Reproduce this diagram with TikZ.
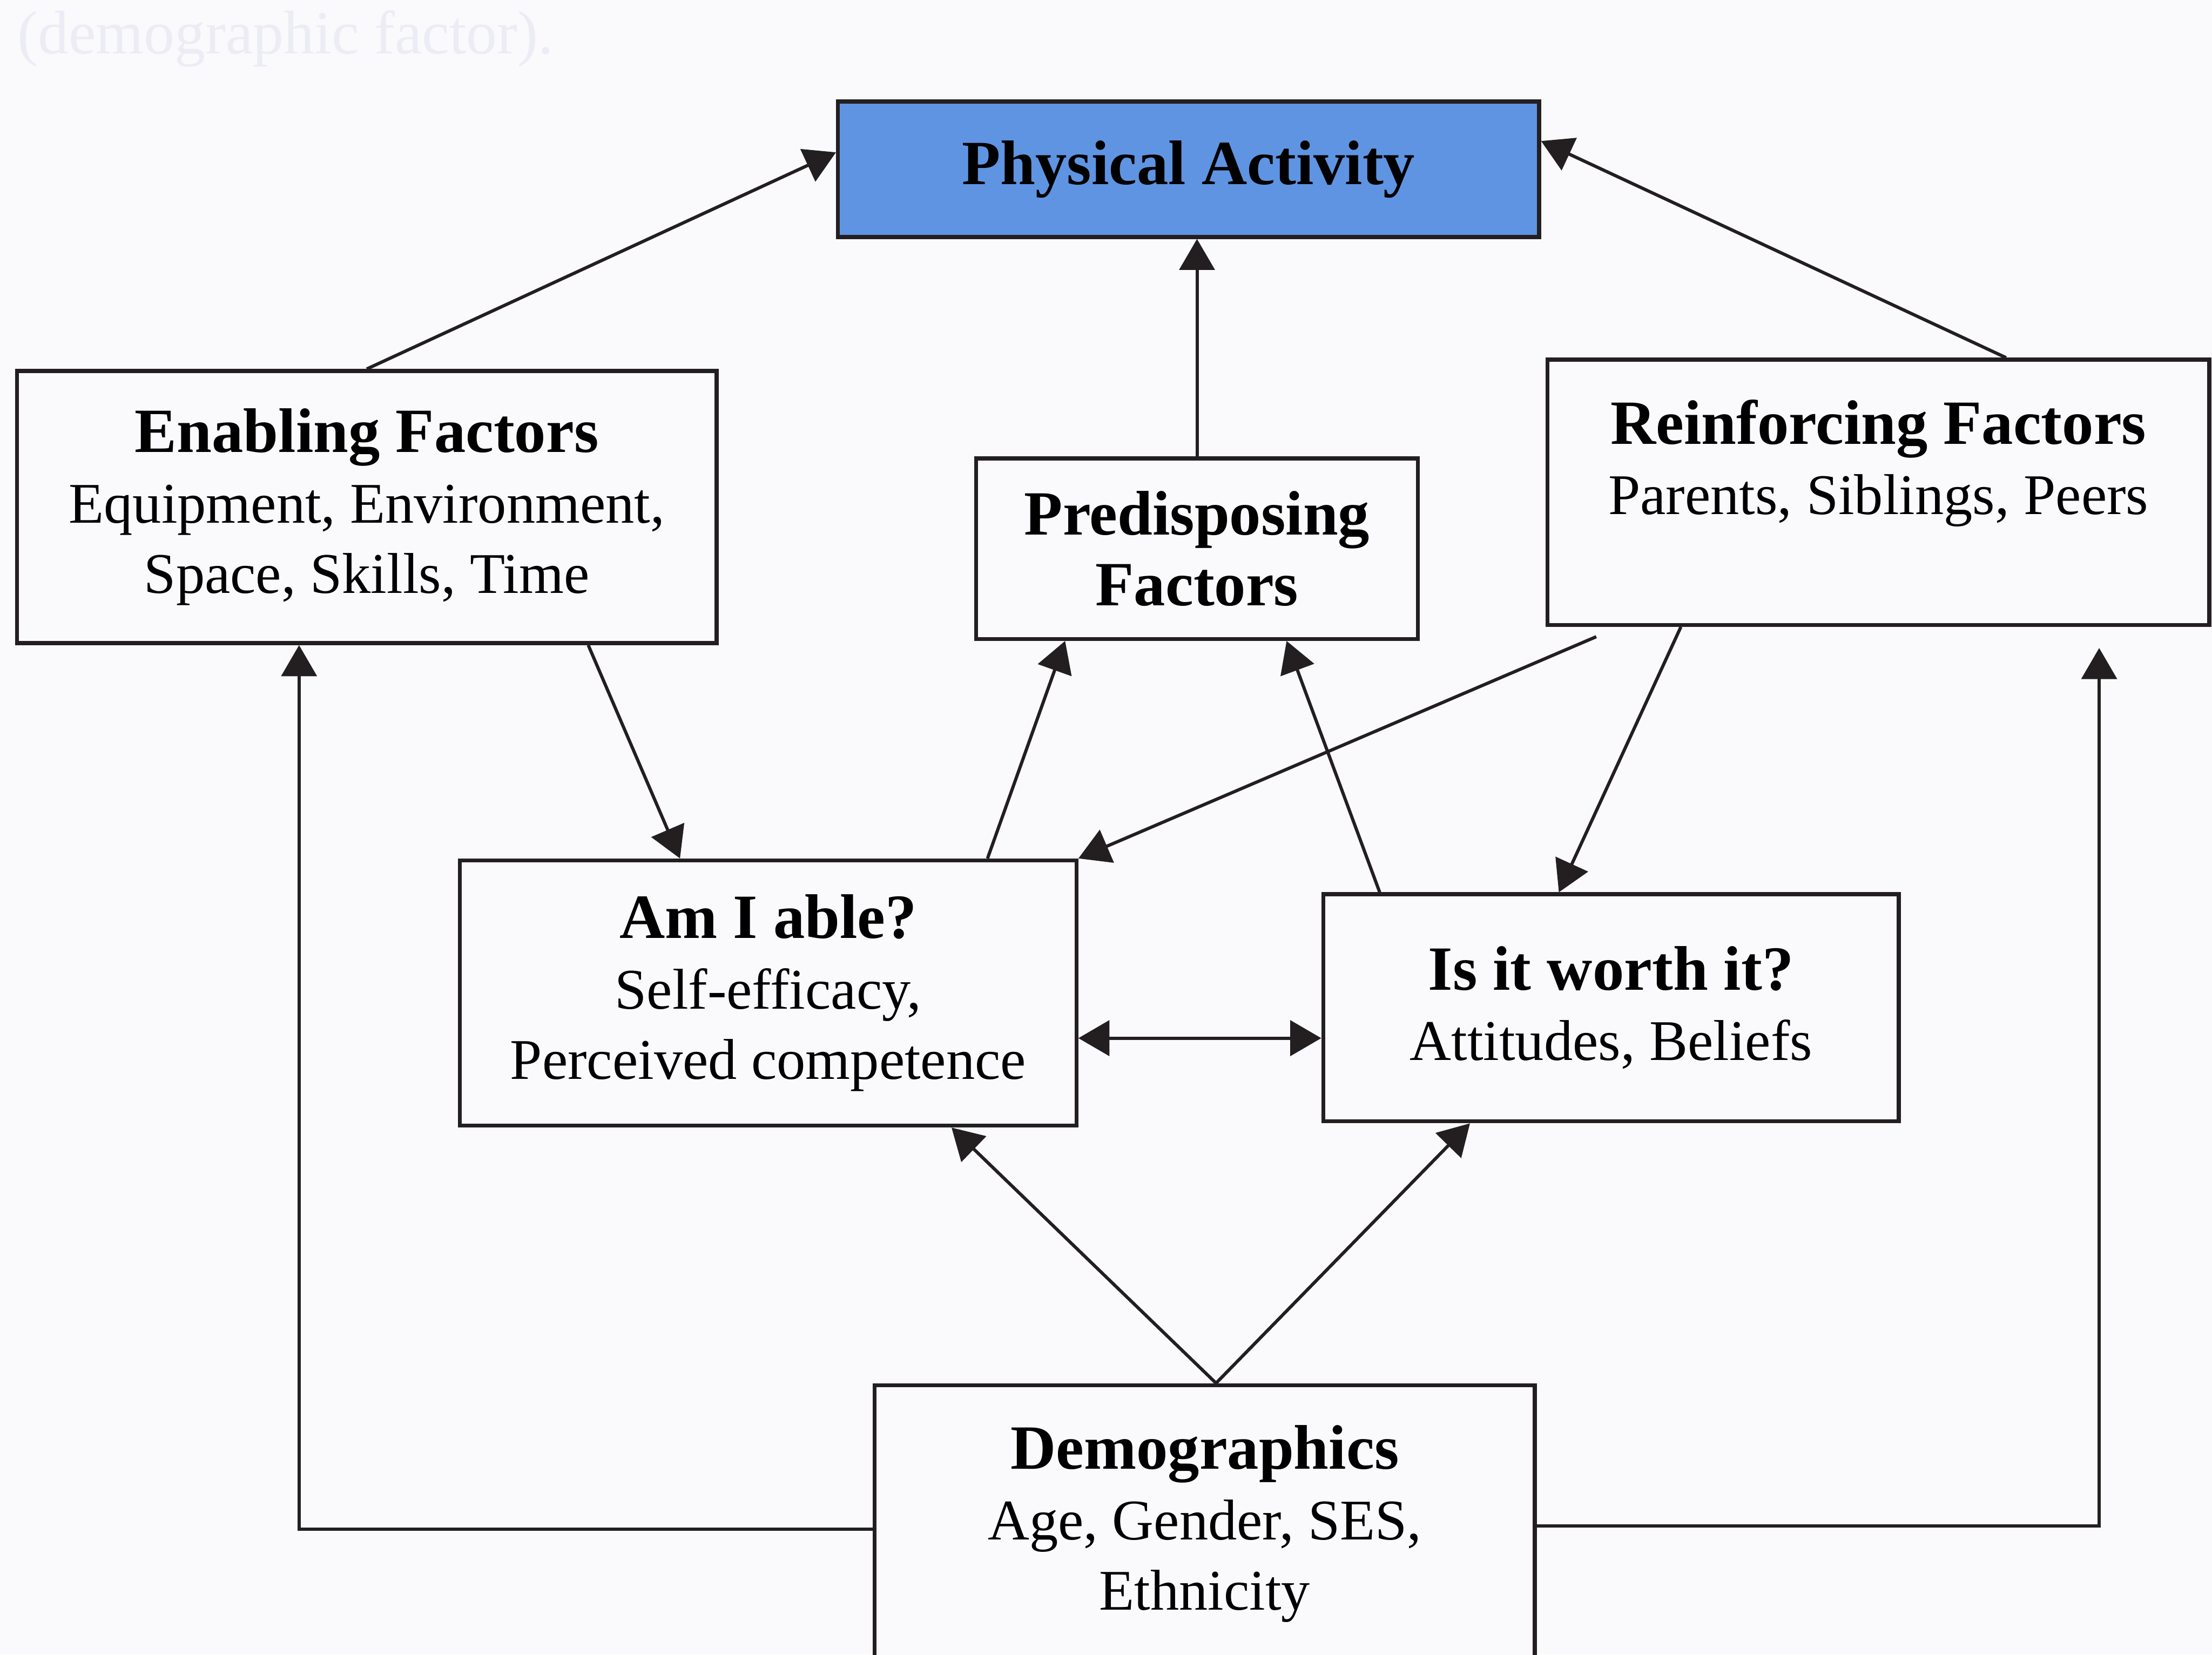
\documentclass[tikz,border=0pt]{standalone}
\usepackage{fontspec}
\setmainfont{Liberation Serif}
\usetikzlibrary{positioning, arrows.meta, calc}
\definecolor{paper}{RGB}{250,250,253}
\definecolor{ink}{RGB}{35,31,32}
\definecolor{pablue}{RGB}{95,148,226}
\definecolor{ghost}{RGB}{236,236,244}
\newcommand{\factortitle}[1]{{\fontsize{12.7}{14.2}\selectfont\bfseries #1}}

\begin{document}
\begin{tikzpicture}[
		font=\fontsize{11.6}{14.2}\selectfont,
		factorbox/.style={draw=ink, line width=0.8pt, fill=paper, align=center, inner sep=0pt},
		link/.style={draw=ink, line width=0.65pt, -{Triangle[length=2.2mm, width=2.5mm]}},
		biglink/.style={link, {Triangle[length=2.2mm, width=2.5mm]}-{Triangle[length=2.2mm, width=2.5mm]}}
	]
	\path[use as bounding box, clip] (0,0) rectangle (15.68,-11.73);
	\fill[paper] (0,0) rectangle (15.68,-11.73);
	\node[ghost, font=\fontsize{12.4}{14.2}\selectfont, anchor=base west] (caption) at (0.0,-0.38) {(demographic factor).};

	\node[factorbox, fill=pablue, minimum width=4.97cm, minimum height=0.96cm] (activity) at (8.425,-1.20) {\factortitle{Physical Activity}};
	\node[factorbox, minimum width=4.96cm, minimum height=1.93cm] (enabling) at (2.60,-3.595) {\factortitle{Enabling Factors}\\Equipment, Environment,\\Space, Skills, Time};
	\node[factorbox, minimum width=3.13cm, minimum height=1.28cm] (predisposing) at (8.485,-3.89) {\factortitle{Predisposing}\\\factortitle{Factors}};
	\node[factorbox, minimum width=4.69cm, minimum height=1.88cm] (reinforcing) at (13.315,-3.49) {\factortitle{Reinforcing Factors}\\Parents, Siblings, Peers\\ ~};
	\node[factorbox, minimum width=4.37cm, minimum height=1.88cm] (able) at (5.445,-7.04) {\factortitle{Am I able?}\\Self-efficacy,\\Perceived competence};
	\node[factorbox, minimum width=4.08cm, minimum height=1.61cm] (worth) at (11.42,-7.145) {\factortitle{Is it worth it?}\\Attitudes, Beliefs};
	\node[factorbox, minimum width=4.68cm, minimum height=2.38cm] (demo) at (8.54,-11.01) {\factortitle{Demographics}\\Age, Gender, SES,\\Ethnicity\\ ~};

	% towards physical activity
	\draw[link] (enabling.north) -- ([yshift=0.12cm]activity.west);
	\draw[link] (predisposing.north) -- (predisposing.north |- activity.south);
	\draw[link] ([xshift=0.905cm]reinforcing.north) -- ([yshift=0.2cm]activity.east);

	% middle layer
	\draw[link] ([xshift=1.57cm]enabling.south) -- ([xshift=-0.625cm]able.north);
	\draw[link] ([xshift=1.555cm]able.north) -- ([xshift=-0.935cm]predisposing.south);
	\draw[link] ([xshift=-2.0cm, yshift=-0.07cm]reinforcing.south) -- (able.north east);
	\draw[link] ([xshift=-1.4cm]reinforcing.south) -- ([xshift=-0.37cm]worth.north);
	\draw[link] ([xshift=-1.64cm]worth.north) -- ([xshift=0.635cm]predisposing.south);
	\draw[biglink] ([yshift=-0.32cm]able.east) -- ([yshift=-0.32cm]able.east -| worth.west);

	% from demographics
	\draw[link] ([xshift=0.08cm]demo.north) -- ([xshift=1.3cm]able.south);
	\draw[link] ([xshift=0.08cm]demo.north) -- ([xshift=-1.0cm]worth.south);
	\draw[link] ([yshift=0.17cm]demo.west) -| ([xshift=-0.48cm]enabling.south);
	\coordinate (reinfgap) at ([xshift=1.565cm, yshift=-0.15cm]reinforcing.south);
	\draw[link] ([yshift=0.19cm]demo.east) -| (reinfgap);
\end{tikzpicture}
\end{document}
